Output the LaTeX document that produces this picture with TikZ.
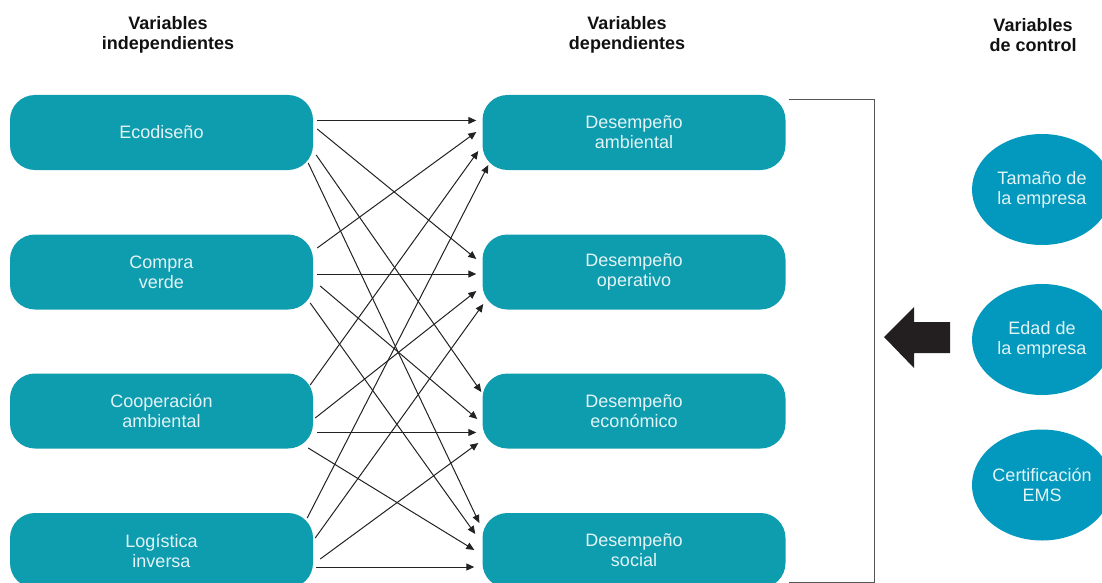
\documentclass[tikz,border=0pt]{standalone}
\usepackage{fontspec}
\setmainfont{Liberation Sans}
\usetikzlibrary{arrows.meta,calc,shapes.geometric}
\definecolor{boxteal}{HTML}{0E9CAF}
\definecolor{ovalblue}{HTML}{0399BE}
\definecolor{labeltext}{HTML}{E2F4F6}
\definecolor{headink}{HTML}{111111}
\definecolor{linkink}{HTML}{222222}
\definecolor{bracketgray}{HTML}{555555}
\definecolor{arrowink}{HTML}{231F20}

\begin{document}
\begin{tikzpicture}[x=1pt,y=-1pt,
  varbox/.style={rounded corners=25pt, fill=boxteal, minimum width=303pt,
    minimum height=75pt, inner sep=0pt, text=labeltext, align=center,
    font=\fontsize{18}{20}\selectfont},
  ctrlvar/.style={ellipse, fill=ovalblue, minimum width=140pt,
    minimum height=111pt, inner sep=0pt, text=labeltext, align=center,
    font=\fontsize{18}{20}\selectfont},
  heading/.style={align=center, text=headink,
    font=\fontsize{18}{20}\selectfont\bfseries},
  link/.style={draw=linkink, line width=1pt,
    -{Triangle[length=8pt,width=7pt]}},
]
\useasboundingbox (0,0) rectangle (1102,583);
\clip (0,0) rectangle (1102,583);

% column headings
\node[heading] (hind) at (168,35) {Variables\\independientes};
\node[heading] (hdep) at (627,35) {Variables\\dependientes};
\node[heading] (hctl) at (1033,35) {Variables\\de control};

% independent variables
\node[varbox] (eco) at (161.5,132.5) {Ecodiseño};
\node[varbox] (com) at (161.5,272)   {Compra\\verde};
\node[varbox] (coo) at (161.5,411)   {Cooperación\\ambiental};
\node[varbox] (log) at (161.5,550.5) {Logística\\inversa};

% dependent variables
\node[varbox] (amb) at (634,132.5) {Desempeño\\ambiental};
\node[varbox] (ope) at (634,272)   {Desempeño\\operativo};
\node[varbox] (ecn) at (634,411)   {Desempeño\\económico};
\node[varbox] (soc) at (634,550.5) {Desempeño\\social};

% control variables
\node[ctrlvar] (tam) at (1042,189.5) {Tamaño de\\la empresa};
\node[ctrlvar] (eda) at (1042,339.5) {Edad de\\la empresa};
\node[ctrlvar] (ems) at (1042,485)   {Certificación\\EMS};

% links from each independent to each dependent variable
\draw[link] ($(eco.east)+(4,-12)$)  -- ($(amb.west)+(-6,-12)$);
\draw[link] ($(eco.east)+(4,-3.5)$) -- ($(ope.west)+(-6,-13)$);
\draw[link] ($(eco.east)+(3,22.5)$) -- ($(ecn.west)+(-1,-19)$);
\draw[link] ($(eco.east)+(-5,30.5)$) -- ($(soc.west)+(-3,-27.5)$);

\draw[link] ($(com.east)+(4,-24)$)  -- ($(amb.west)+(-6,-0.5)$);
\draw[link] ($(com.east)+(4,2)$)    -- ($(ope.west)+(-6,2)$);
\draw[link] ($(com.east)+(7,14)$)   -- ($(ecn.west)+(-5,8)$);
\draw[link] ($(com.east)+(-3,31)$)  -- ($(soc.west)+(-7,-16.5)$);

\draw[link] ($(coo.east)+(-3,-26)$) -- ($(amb.west)+(-4,18.5)$);
\draw[link] ($(coo.east)+(2,7)$)    -- ($(ope.west)+(-6,19)$);
\draw[link] ($(coo.east)+(4,21.5)$) -- ($(ecn.west)+(-6,21.5)$);
\draw[link] ($(coo.east)+(-5,37)$)  -- ($(soc.west)+(-8,-0.5)$);

\draw[link] ($(log.east)+(-6,-32.5)$) -- ($(amb.west)+(6,32.5)$);
\draw[link] ($(log.east)+(2,-12.5)$)  -- ($(ope.west)+(1,32)$);
\draw[link] ($(log.east)+(7,8.5)$)    -- ($(ecn.west)+(-4,32)$);
\draw[link] ($(log.east)+(3,16.5)$)   -- ($(soc.west)+(-8,16.5)$);

% bracket grouping the dependent variables
\draw[bracketgray, line width=1.1pt]
  ($(amb.north east)+(3,5)$) -- ($(amb.north east)+(89,5)$)
  -- ($(soc.south east)+(89,-5.5)$) -- ($(soc.south east)+(3,-5.5)$);

% block arrow from the control variables
\fill[arrowink] (884,337) -- (914,307) -- (914,322) -- (950,322)
  -- (950,353) -- (914,353) -- (914,368) -- cycle;
\end{tikzpicture}
\end{document}
